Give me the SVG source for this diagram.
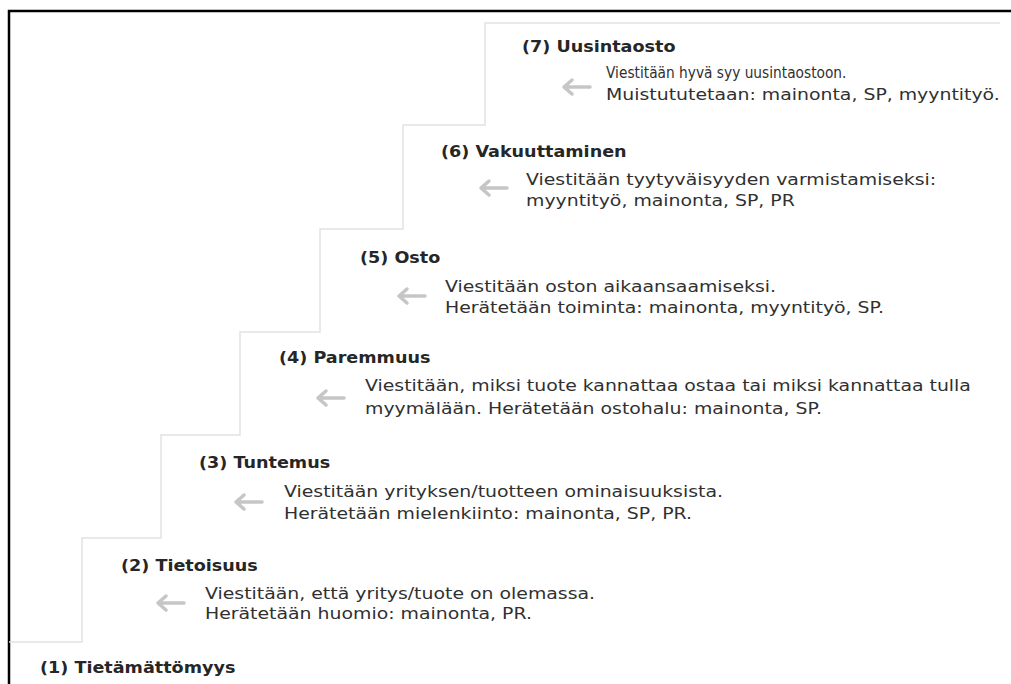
<svg xmlns="http://www.w3.org/2000/svg" width="1011" height="684" viewBox="0 0 1011 684">
<style>
.t{font-family:"DejaVu Sans","Liberation Sans",sans-serif;font-size:16px;font-weight:bold;fill:#262626}
.b{font-family:"DejaVu Sans","Liberation Sans",sans-serif;font-size:16px;fill:#303030}
.arr{fill:none;stroke:#c6c6c6;stroke-width:3.5;stroke-linecap:round;stroke-linejoin:round}
</style>
<rect width="1011" height="684" fill="#fff"/>
<path d="M9,684 V11 H1011" fill="none" stroke="#000" stroke-width="2.5"/>
<g id="stairs">
<path d="M9,642 H82 V538 H161 V435 H240 V332 H320 V229 H403 V125 H485 V23 H1000" fill="none" stroke="#e2e2e2" stroke-width="1.5"/>
</g>
<g id="connectors">
<path class="arr" d="M590,87 H564 M572,80 L564,87 L572,94"/>
<path class="arr" d="M507,188 H481 M489,181 L481,188 L489,195"/>
<path class="arr" d="M425,296 H399 M407,289 L399,296 L407,303"/>
<path class="arr" d="M344,398 H318 M326,391 L318,398 L326,405"/>
<path class="arr" d="M262,502 H236 M244,495 L236,502 L244,509"/>
<path class="arr" d="M184,603 H158 M166,596 L158,603 L166,610"/>
</g>
<g id="step7">
<text class="t" transform="translate(522,52) scale(1.1,1)">(7) Uusintaosto</text>
<text class="b" transform="translate(606,78) scale(0.86,1)">Viestitään hyvä syy uusintaostoon.</text>
<text class="b" transform="translate(606,100) scale(1.18,1)">Muistututetaan: mainonta, SP, myyntityö.</text>
</g>
<g id="step6">
<text class="t" transform="translate(441,157) scale(1.1,1)">(6) Vakuuttaminen</text>
<text class="b" transform="translate(526,185) scale(1.18,1)">Viestitään tyytyväisyyden varmistamiseksi:</text>
<text class="b" transform="translate(526,206) scale(1.18,1)">myyntityö, mainonta, SP, PR</text>
</g>
<g id="step5">
<text class="t" transform="translate(360,263) scale(1.1,1)">(5) Osto</text>
<text class="b" transform="translate(445,292) scale(1.18,1)">Viestitään oston aikaansaamiseksi.</text>
<text class="b" transform="translate(445,313) scale(1.18,1)">Herätetään toiminta: mainonta, myyntityö, SP.</text>
</g>
<g id="step4">
<text class="t" transform="translate(279,363) scale(1.1,1)">(4) Paremmuus</text>
<text class="b" transform="translate(365,391) scale(1.18,1)">Viestitään, miksi tuote kannattaa ostaa tai miksi kannattaa tulla</text>
<text class="b" transform="translate(365,414) scale(1.18,1)">myymälään. Herätetään ostohalu: mainonta, SP.</text>
</g>
<g id="step3">
<text class="t" transform="translate(199,468) scale(1.1,1)">(3) Tuntemus</text>
<text class="b" transform="translate(284,497) scale(1.18,1)">Viestitään yrityksen/tuotteen ominaisuuksista.</text>
<text class="b" transform="translate(284,519) scale(1.18,1)">Herätetään mielenkiinto: mainonta, SP, PR.</text>
</g>
<g id="step2">
<text class="t" transform="translate(121,571) scale(1.1,1)">(2) Tietoisuus</text>
<text class="b" transform="translate(205,599) scale(1.18,1)">Viestitään, että yritys/tuote on olemassa.</text>
<text class="b" transform="translate(205,619) scale(1.18,1)">Herätetään huomio: mainonta, PR.</text>
</g>
<g id="step1">
<text class="t" transform="translate(40,673) scale(1.1,1)">(1) Tietämättömyys</text>
</g>
</svg>
